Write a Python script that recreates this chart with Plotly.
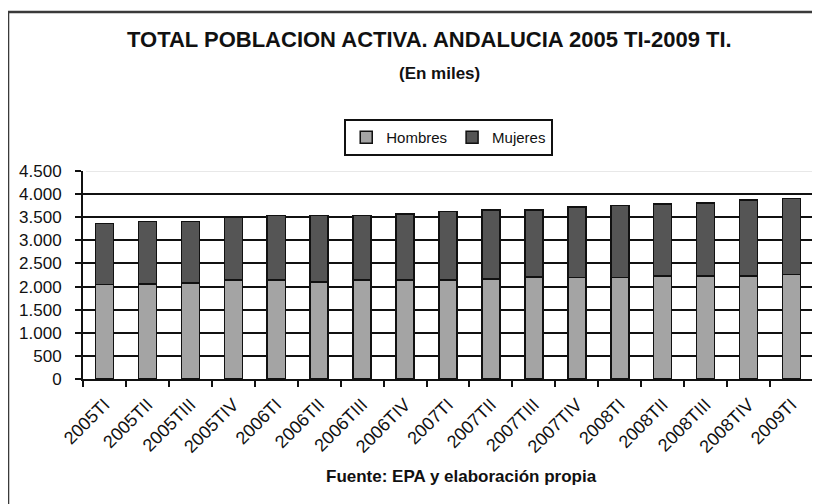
import plotly.graph_objects as go

categories = ["2005TI", "2005TII", "2005TIII", "2005TIV",
              "2006TI", "2006TII", "2006TIII", "2006TIV",
              "2007TI", "2007TII", "2007TIII", "2007TIV",
              "2008TI", "2008TII", "2008TIII", "2008TIV",
              "2009TI"]
hombres = [2045, 2055, 2080, 2137, 2137, 2100, 2137, 2137,
           2137, 2165, 2208, 2194, 2194, 2229, 2229, 2229, 2265]
mujeres = [1315, 1357, 1332, 1360, 1403, 1440, 1403, 1431,
           1489, 1496, 1453, 1524, 1560, 1553, 1574, 1639, 1638]
y_tickvals = [0, 500, 1000, 1500, 2000, 2500, 3000, 3500, 4000, 4500]
y_ticktext = ["0", "500", "1.000", "1.500", "2.000", "2.500",
              "3.000", "3.500", "4.000", "4.500"]

FONT = "Liberation Sans, Arial, sans-serif"
BAR_W = 0.42

fig = go.Figure()
fig.add_trace(go.Bar(x=categories, y=hombres, name="Hombres", width=BAR_W,
                     marker=dict(color="#a4a4a4", line=dict(color="#111111", width=1.5))))
fig.add_trace(go.Bar(x=categories, y=mujeres, name="Mujeres", width=BAR_W,
                     marker=dict(color="#555555", line=dict(color="#111111", width=1.5))))

# page body adds an 8px offset; the figure is sized/margined to compensate
fig.update_layout(
    barmode="stack",
    width=812, height=496,
    margin=dict(l=75, r=7, t=163, b=125, autoexpand=False),
    paper_bgcolor="white", plot_bgcolor="white",
    font=dict(family=FONT, color="#111111", size=16),
    showlegend=True,
    legend=dict(orientation="h", x=0.501, xanchor="center", y=1.25, yanchor="top",
                bordercolor="#111111", borderwidth=2, bgcolor="white",
                font=dict(size=15, family=FONT), itemwidth=30,
                traceorder="normal"),
    xaxis=dict(type="category", tickangle=-45, tickson="boundaries",
               ticks="outside", ticklen=6, tickwidth=2, tickcolor="#111111",
               showline=True, linecolor="#111111", linewidth=2,
               showgrid=False, tickfont=dict(size=18, family=FONT),
               ticklabelstandoff=6,
               range=[-0.5, len(categories) - 0.5]),
    yaxis=dict(range=[0, 4500], tickvals=y_tickvals, ticktext=y_ticktext,
               ticks="outside", ticklen=6, tickwidth=2, tickcolor="#111111",
               showline=True, linecolor="#111111", linewidth=2,
               showgrid=True, gridcolor="#111111", gridwidth=2,
               zeroline=False, ticklabelstandoff=10,
               tickfont=dict(size=17, family=FONT)),
    annotations=[
        dict(text="<b>TOTAL POBLACION ACTIVA. ANDALUCIA 2005 TI-2009 TI.</b>",
             x=0.475, y=1.63, xref="paper", yref="paper", showarrow=False,
             xanchor="center", yanchor="middle", font=dict(size=22, family=FONT)),
        dict(text="<b>(En miles)</b>",
             x=0.489, y=1.471, xref="paper", yref="paper", showarrow=False,
             xanchor="center", yanchor="middle", font=dict(size=17, family=FONT)),
        dict(text="<b>Fuente: EPA y elaboración propia</b>",
             x=0.518, y=-0.471, xref="paper", yref="paper", showarrow=False,
             xanchor="center", yanchor="middle", font=dict(size=17, family=FONT)),
    ],
    shapes=[
        dict(type="line", xref="paper", yref="y", x0=0.004, x1=1, y0=4500, y1=4500,
             line=dict(color="#e8e8e8", width=2), layer="above"),
        dict(type="rect", xref="paper", yref="paper", x0=-0.1027, x1=1.05,
             y0=-0.7, y1=1.764, line=dict(color="#3a3a3a", width=2.5),
             fillcolor="rgba(0,0,0,0)", layer="above"),
    ],
)

fig.write_html("out.html")
